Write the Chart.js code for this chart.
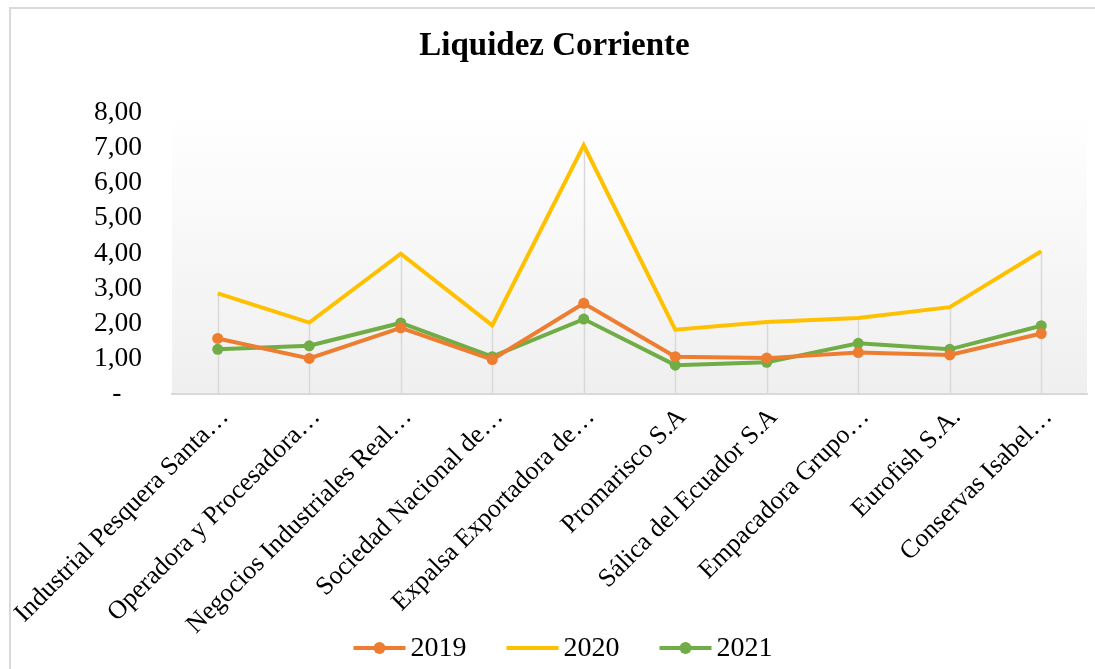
<!DOCTYPE html>
<html>
<head>
<meta charset="utf-8">
<script src="https://cdn.jsdelivr.net/npm/chart.js@4"></script>
<style>
  html, body { margin: 0; padding: 0; background: #fff; overflow: hidden; }
  #wrap { position: relative; width: 1095px; height: 669px; }
  #frame { position: absolute; left: 9px; top: 7px; width: 1200px; height: 800px;
           border-left: 2px solid #d9d9d9; border-top: 2px solid #d9d9d9; }
  canvas { position: absolute; left: 0; top: 0; }
</style>
</head>
<body>
<div id="wrap">
  <div id="frame"></div>
  <canvas id="liquidezChart" width="1095" height="669"></canvas>
</div>
<script>
// empresas (etiquetas tal como aparecen, recortadas)
var empresas = [
  'Industrial Pesquera Santa…',
  'Operadora y Procesadora…',
  'Negocios Industriales Real…',
  'Sociedad Nacional de…',
  'Expalsa Exportadora de…',
  'Promarisco S.A',
  'Sálica del Ecuador S.A',
  'Empacadora Grupo…',
  'Eurofish S.A.',
  'Conservas Isabel…'
];

var anios = ['2019', '2020', '2021'];

var liquidez2019 = [1.58, 1.01, 1.88, 0.98, 2.58, 1.06, 1.02, 1.18, 1.11, 1.72];
var liquidez2020 = [2.86, 2.03, 3.99, 1.95, 7.07, 1.83, 2.05, 2.16, 2.47, 4.06];
var liquidez2021 = [1.27, 1.37, 2.02, 1.06, 2.13, 0.82, 0.90, 1.44, 1.27, 1.94];

var yTicks = [0, 1, 2, 3, 4, 5, 6, 7, 8];

var colores = ['#ED7D31', '#FFC000', '#70AD47'];
var conPunto = [true, false, true];
var fuente = "'Liberation Serif', 'Times New Roman', serif";

// fondo degradado del area de trazado + lineas de caida
var fondoPlugin = {
  id: 'fondo',
  beforeDraw: function(chart) {
    var a = chart.chartArea, ctx = chart.ctx;
    var grad = ctx.createLinearGradient(0, a.top, 0, a.bottom);
    grad.addColorStop(0, '#ffffff');
    grad.addColorStop(1, '#efefef');
    ctx.save();
    ctx.fillStyle = grad;
    ctx.fillRect(a.left, a.top, a.right - a.left, a.bottom - a.top);
    ctx.restore();
  },
  beforeDatasetsDraw: function(chart) {
    var ctx = chart.ctx, xs = chart.scales.x, ys = chart.scales.y;
    ctx.save();
    ctx.strokeStyle = '#d9d9d9';
    ctx.lineWidth = 1.5;
    for (var i = 0; i < empresas.length; i++) {
      var max = Math.max(liquidez2019[i], liquidez2020[i], liquidez2021[i]);
      var x = Math.round(xs.getPixelForValue(i)) + 0.5;
      ctx.beginPath();
      ctx.moveTo(x, ys.getPixelForValue(max));
      ctx.lineTo(x, ys.getPixelForValue(0));
      ctx.stroke();
    }
    ctx.restore();
  }
};

// leyenda abajo (linea + punto, como en Excel)
var leyendaPlugin = {
  id: 'leyendaExcel',
  afterDraw: function(chart) {
    var ctx = chart.ctx;
    var ds = chart.data.datasets;
    var largo = 52, gap = 5, sep = 40, cy = 648;
    ctx.save();
    ctx.font = '28px ' + fuente;
    var anchos = ds.map(function(d) { return ctx.measureText(d.label).width; });
    var total = 0;
    for (var i = 0; i < ds.length; i++) total += largo + gap + anchos[i] + (i < ds.length - 1 ? sep : 0);
    var x = 563 - total / 2;
    for (var j = 0; j < ds.length; j++) {
      ctx.strokeStyle = colores[j];
      ctx.lineWidth = 4;
      ctx.beginPath();
      ctx.moveTo(x, cy); ctx.lineTo(x + largo, cy);
      ctx.stroke();
      if (conPunto[j]) {
        ctx.fillStyle = colores[j];
        ctx.beginPath();
        ctx.arc(x + largo / 2, cy, 6, 0, Math.PI * 2);
        ctx.fill();
      }
      ctx.fillStyle = '#000';
      ctx.textBaseline = 'middle';
      ctx.textAlign = 'left';
      ctx.fillText(ds[j].label, x + largo + gap, cy + 1);
      x += largo + gap + anchos[j] + sep;
    }
    ctx.restore();
  }
};

var ctx = document.getElementById('liquidezChart').getContext('2d');
var chart = new Chart(ctx, {
  type: 'line',
  data: {
    labels: empresas,
    datasets: [{
      label: anios[0],
      data: liquidez2019,
      borderColor: colores[0],
      backgroundColor: colores[0],
      borderWidth: 4,
      pointRadius: 5.5,
      pointBorderWidth: 0,
      tension: 0
    }, {
      label: anios[1],
      data: liquidez2020,
      borderColor: colores[1],
      backgroundColor: colores[1],
      borderWidth: 4,
      pointRadius: 0,
      tension: 0
    }, {
      label: anios[2],
      data: liquidez2021,
      borderColor: colores[2],
      backgroundColor: colores[2],
      borderWidth: 4,
      pointRadius: 5.5,
      pointBorderWidth: 0,
      tension: 0
    }]
  },
  options: {
    responsive: false,
    animation: false,
    layout: { autoPadding: false, padding: { left: 22, right: 8, top: 0, bottom: 0 } },
    plugins: {
      title: {
        display: true,
        text: 'Liquidez Corriente',
        color: '#000',
        font: { family: fuente, size: 33, weight: 'bold' },
        padding: { top: 27, bottom: 46 }
      },
      legend: { display: false },
      tooltip: { enabled: false }
    },
    scales: {
      x: {
        offset: true,
        grid: { display: false, drawTicks: false },
        border: { display: true, color: '#d9d9d9', width: 2 },
        ticks: {
          autoSkip: false,
          minRotation: 45,
          maxRotation: 45,
          padding: 8,
          labelOffset: 7,
          color: '#000',
          font: { family: fuente, size: 26 }
        },
        afterFit: function(scale) {
          scale.height = scale.chart.height - 394;
          scale.paddingLeft = 0;
          scale.paddingRight = 0;
        }
      },
      y: {
        min: 0,
        max: 8,
        afterBuildTicks: function(scale) {
          scale.ticks = yTicks.map(function(v) { return { value: v }; });
        },
        grid: { display: false, drawTicks: false },
        border: { display: false },
        ticks: {
          autoSkip: false,
          padding: 30,
          color: '#000',
          font: { family: fuente, size: 27.5 },
          callback: function(v) {
            if (v === 0) return '-\u2007 ';
            return v.toFixed(2).replace('.', ',');
          }
        },
        afterFit: function(scale) {
          scale.width = 150;
          scale.paddingTop = 0;
          scale.paddingBottom = 0;
        }
      }
    }
  },
  plugins: [fondoPlugin, leyendaPlugin]
});
</script>
</body>
</html>
